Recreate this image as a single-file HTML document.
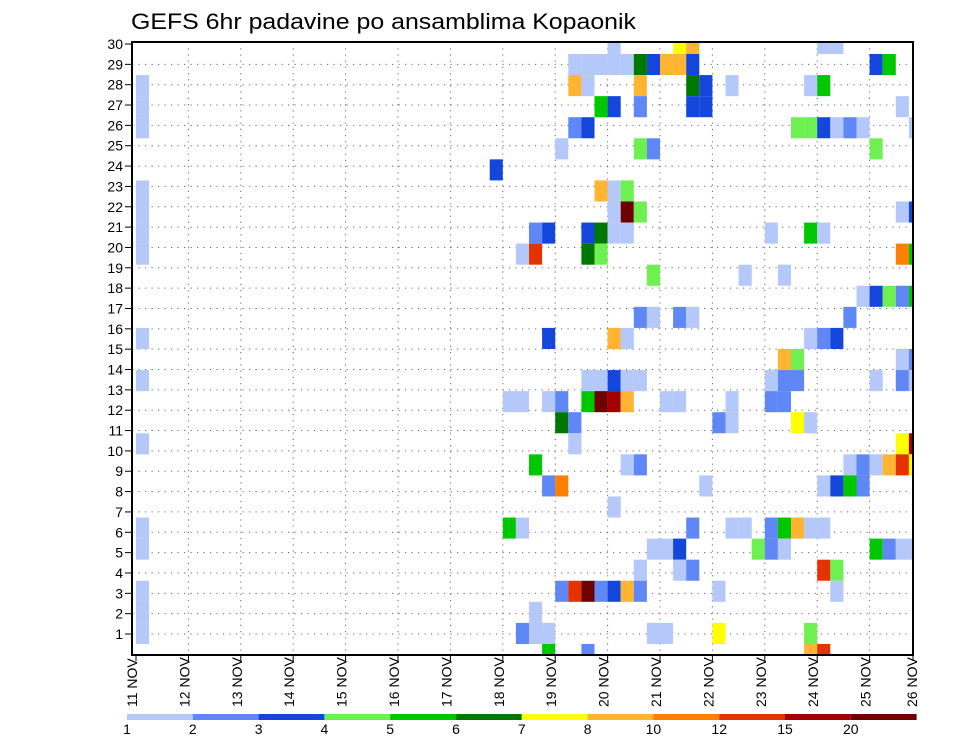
<!DOCTYPE html>
<html><head><meta charset="utf-8"><style>
html,body{margin:0;padding:0;background:#fff;}
svg{display:block;font-family:"Liberation Sans",sans-serif;}
</style></head>
<body>
<svg id="chart" width="960" height="742" viewBox="0 0 960 742" xmlns="http://www.w3.org/2000/svg">
<rect x="0" y="0" width="960" height="742" fill="#fff"/>
<text x="131" y="29" font-size="22" textLength="505" lengthAdjust="spacingAndGlyphs" fill="#000">GEFS 6hr padavine po ansamblima Kopaonik</text>
<g id="grid"></g>
<g id="cells"></g>
<rect x="132" y="42" width="781" height="613" fill="none" stroke="#000" stroke-width="2"/>
<g id="yaxis"></g>
<g id="xaxis"></g>
<g id="legend"></g>
</svg>
<script>
// member rows from top (index 0 = top row) -> 6h step columns and precip (mm)
const steps = [
[36,41,42,52,53],
[33,34,35,36,37,38,39,40,41,42,56,57],
[0,33,34,38,42,43,45,51,52],
[0,35,36,38,42,43,58],
[0,33,34,50,51,52,53,54,55,59],
[32,38,39,56],
[27],
[0,35,36,37],
[0,36,37,38,58,59],
[0,30,31,34,35,36,37,48,51,52],
[0,29,30,34,35,58,59],
[39,46,49],
[55,56,57,58,59],
[38,39,41,42,54],
[0,31,36,37,51,52,53],
[49,50,58,59],
[0,34,35,36,37,38,48,49,50,56,58,59],
[28,29,31,32,34,35,36,37,40,41,45,48,49],
[32,33,44,45,50,51],
[0,33,58,59],
[30,37,38,54,55,56,57,58,59],
[31,32,43,52,53,54,55],
[36],
[0,28,29,42,45,46,48,49,50,51,52],
[0,39,40,41,47,48,49,56,57,58,59],
[38,41,42,52,53],
[0,32,33,34,35,36,37,38,44,53],
[0,30],
[0,29,30,31,39,40,44,51],
[31,34,51,52]
];
const precip = [
[1.5,7.5,9,1.5,1.5],
[1.5,1.5,1.5,1.5,1.5,6.5,3.5,9,9,3.5,3.5,5.5],
[1.5,9,1.5,9,6.5,3.5,1.5,1.5,5.5],
[1.5,5.5,3.5,2.5,3.5,3.5,1.5],
[1.5,2.5,3.5,4.5,4.5,3.5,1.5,2.5,1.5,1.5],
[1.5,4.5,2.5,4.5],
[3.5],
[1.5,9,1.5,4.5],
[1.5,1.5,22,4.5,1.5,3.5],
[1.5,2.5,3.5,3.5,6.5,1.5,1.5,1.5,5.5,1.5],
[1.5,1.5,13,6.5,4.5,11,5.5],
[4.5,1.5,1.5],
[1.5,3.5,4.5,2.5,5.5],
[2.5,1.5,2.5,1.5,2.5],
[1.5,3.5,9,1.5,1.5,2.5,3.5],
[9,4.5,1.5,2.5],
[1.5,1.5,1.5,3.5,1.5,1.5,1.5,2.5,2.5,1.5,2.5,1.5],
[1.5,1.5,1.5,2.5,5.5,22,17,9,1.5,1.5,1.5,2.5,2.5],
[6.5,2.5,2.5,1.5,7.5,1.5],
[1.5,1.5,7.5,17],
[5.5,1.5,2.5,1.5,2.5,1.5,9,13,7.5],
[2.5,11,1.5,1.5,3.5,5.5,2.5],
[1.5],
[1.5,5.5,1.5,2.5,1.5,1.5,2.5,5.5,9,1.5,1.5],
[1.5,1.5,1.5,3.5,4.5,2.5,1.5,5.5,2.5,1.5,1.5],
[1.5,1.5,2.5,13,4.5],
[1.5,2.5,13,22,2.5,3.5,9,2.5,1.5,1.5],
[1.5,1.5],
[1.5,2.5,1.5,1.5,1.5,1.5,7.5,4.5],
[5.5,2.5,9,13]
];
const levels = [1,2,3,4,5,6,7,8,10,12,15,20];
const levelColors = ["#b4c8fa","#5f87f5","#1446dc","#6ef050","#00c800","#007800","#ffff00","#ffb432","#ff8000","#e63200","#a50000","#6e0000"];
const yTickLabels = [1,2,3,4,5,6,7,8,9,10,11,12,13,14,15,16,17,18,19,20,21,22,23,24,25,26,27,28,29,30];
const dayLabels = ["11","12","13","14","15","16","17","18","19","20","21","22","23","24","25","26"];

const NS = "http://www.w3.org/2000/svg";
const PL = 132, PR = 913, PT = 42, PB = 655;
const X0 = 136, DAY = 52.4, STEP = DAY / 4;
const ROW0 = 32.93, ROWH = 21.07;
function xStep(s){ return X0 + s * STEP; }
function yMember(m){ return ROW0 + m * ROWH; }
function yTick(v){ return 44 + (30 - v) * 20.345; }
function xDay(d){ return X0 + d * DAY; }
function colorFor(v){
  let idx = 0;
  for (let i = 0; i < levels.length; i++) if (v >= levels[i]) idx = i;
  return levelColors[idx];
}
function mk(tag, attrs, parent){
  const el = document.createElementNS(NS, tag);
  for (const k in attrs) el.setAttribute(k, attrs[k]);
  parent.appendChild(el);
  return el;
}

// grid
const grid = document.getElementById('grid');
for (let i = 0; i < yTickLabels.length - 1; i++) {
  const y = yTick(yTickLabels[i]);
  const l = mk('line', {x1: PL, x2: PR, y1: y, y2: y, stroke: '#666', 'stroke-width': 1, 'stroke-dasharray': '1.2,5.3'}, grid);
  
  
}
for (let d = 1; d < dayLabels.length - 1; d++) {
  const x = xDay(d);
  const l = mk('line', {x1: x, x2: x, y1: PT, y2: PB, stroke: '#666', 'stroke-width': 1, 'stroke-dasharray': '1.2,5'}, grid);
  
  
}

// cells
const cells = document.getElementById('cells');
for (let m = 0; m < steps.length; m++) {
  for (let k = 0; k < steps[m].length; k++) {
    let x1 = xStep(steps[m][k]), x2 = x1 + STEP;
    let y1 = yMember(m), y2 = y1 + ROWH;
    x1 = Math.max(x1, PL); x2 = Math.min(x2, PR);
    y1 = Math.max(y1, PT); y2 = Math.min(y2, PB);
    if (x2 <= x1 || y2 <= y1) continue;
    const r = mk('rect', {x: x1, y: y1, width: x2 - x1, height: y2 - y1, fill: colorFor(precip[m][k])}, cells);
    
    
  }
}

// y axis
const ya = document.getElementById('yaxis');
for (const v of yTickLabels) {
  const y = yTick(v);
  const t = mk('line', {x1: 125, x2: PL, y1: y, y2: y, stroke: '#000', 'stroke-width': 1}, ya);
  
  
  const tx = mk('text', {x: 123, y: y + 5, 'font-size': 14, 'text-anchor': 'end', fill: '#000'}, ya);
  tx.textContent = v;
  
  
}

// x axis
const xa = document.getElementById('xaxis');
for (let d = 0; d < dayLabels.length; d++) {
  let x = xDay(d);
  if (d === dayLabels.length - 1) x = 916;
  const t = mk('line', {x1: Math.min(x, PR), x2: Math.min(x, PR), y1: PB, y2: PB + 6, stroke: '#000', 'stroke-width': 1}, xa);
  
  
  const tx = mk('text', {x: 0, y: 0, 'font-size': 14, fill: '#000', transform: 'translate(' + (x + 1) + ',707) rotate(-90)'}, xa);
  tx.textContent = dayLabels[d] + ' NOV';
  
  
}

// legend
const lg = document.getElementById('legend');
const LX0 = 127, LW = 65.8;
for (let i = 0; i < levels.length; i++) {
  const r = mk('rect', {x: LX0 + i * LW, y: 714, width: LW, height: 6, fill: levelColors[i]}, lg);
  
  
  const tx = mk('text', {x: LX0 + i * LW, y: 734, 'font-size': 14, 'text-anchor': 'middle', fill: '#000'}, lg);
  tx.textContent = levels[i];
  
  
}
</script>
</body></html>
